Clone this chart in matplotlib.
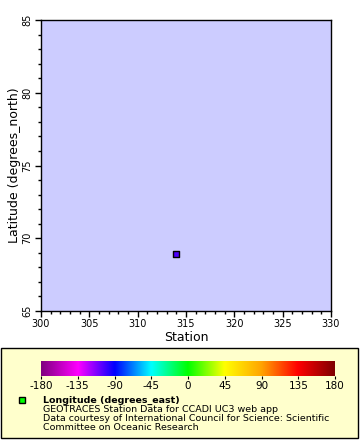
import numpy as np
import matplotlib
matplotlib.use("Agg")
from matplotlib import pyplot as plt
from matplotlib.colors import LinearSegmentedColormap, Normalize
from matplotlib.patches import Rectangle

# station data
station = [314.0]
latitude = [68.9]
longitude = [-104.0]

cbar_ticks = [-180, -135, -90, -45, 0, 45, 90, 135, 180]
cmap_colors = ["#800080", "#ff00ff", "#0000ff", "#00ffff", "#00ff00",
               "#ffff00", "#ffa500", "#ff0000", "#800000"]

cmap = LinearSegmentedColormap.from_list("erddap", cmap_colors)
norm = Normalize(-180, 180)

W, H = 360, 440
fig = plt.figure(figsize=(W/100, H/100), dpi=100)
plt.rcParams['font.family'] = 'DejaVu Sans'

ax = fig.add_axes([41/W, 1-311/H, 290/W, 291/H])
ax.set_facecolor("#ccccff")
ax.scatter(station, latitude, c=longitude, cmap=cmap, norm=norm,
           marker="s", s=22, edgecolors="black", linewidths=1, zorder=3)
ax.set_xlim(300, 330)
ax.set_ylim(65, 85)
ax.set_xticks(np.arange(300, 331, 5))
ax.set_yticks(np.arange(65, 86, 5))
ax.set_xticks(np.arange(300, 331, 1), minor=True)
ax.set_yticks(np.arange(65, 86, 1), minor=True)
ax.tick_params(labelsize=7, length=4, width=1, pad=2)
ax.tick_params(which="minor", length=2, width=1)
for lab in ax.get_yticklabels():
    lab.set_rotation(90)
    lab.set_va("center")
ax.set_xlabel("Station", fontsize=9, labelpad=1)
ax.set_ylabel("Latitude (degrees_north)", fontsize=9, labelpad=1)
for s in ax.spines.values():
    s.set_linewidth(1)

# legend box
fig.patches.append(Rectangle((1/W, 1-438/H), 357/W, 90/H, transform=fig.transFigure,
                             facecolor="#ffffcc", edgecolor="black", lw=1, zorder=-5))

cax = fig.add_axes([41/W, 1-376/H, 294/W, 15/H])
cax.set_zorder(5)
grad = np.linspace(-180, 180, 512).reshape(1, -1)
cax.imshow(grad, aspect="auto", cmap=cmap, norm=norm, extent=[-180, 180, 0, 1])
cax.set_yticks([])
cax.set_xticks(cbar_ticks)
cax.set_xticklabels([str(t) for t in cbar_ticks])
cax.tick_params(labelsize=7.5, length=2, width=0.8, pad=1.5)
for s in cax.spines.values():
    s.set_visible(False)

fig.patches.append(Rectangle((19/W, 1-403/H), 6/W, 6/H, transform=fig.transFigure,
                             facecolor="#00ff00", edgecolor="black", lw=1, zorder=6))
fig.text(43/W, 1-400/H, "Longitude (degrees_east)", fontsize=6.8,
         fontweight="bold", va="center")
lines = ["GEOTRACES Station Data for CCADI UC3 web app",
         "Data courtesy of International Council for Science: Scientific",
         "Committee on Oceanic Research"]
for i, t in enumerate(lines):
    fig.text(43/W, 1-(409 + 9*i)/H, t, fontsize=6.8, va="center")

plt.savefig("out.png", dpi=100)
